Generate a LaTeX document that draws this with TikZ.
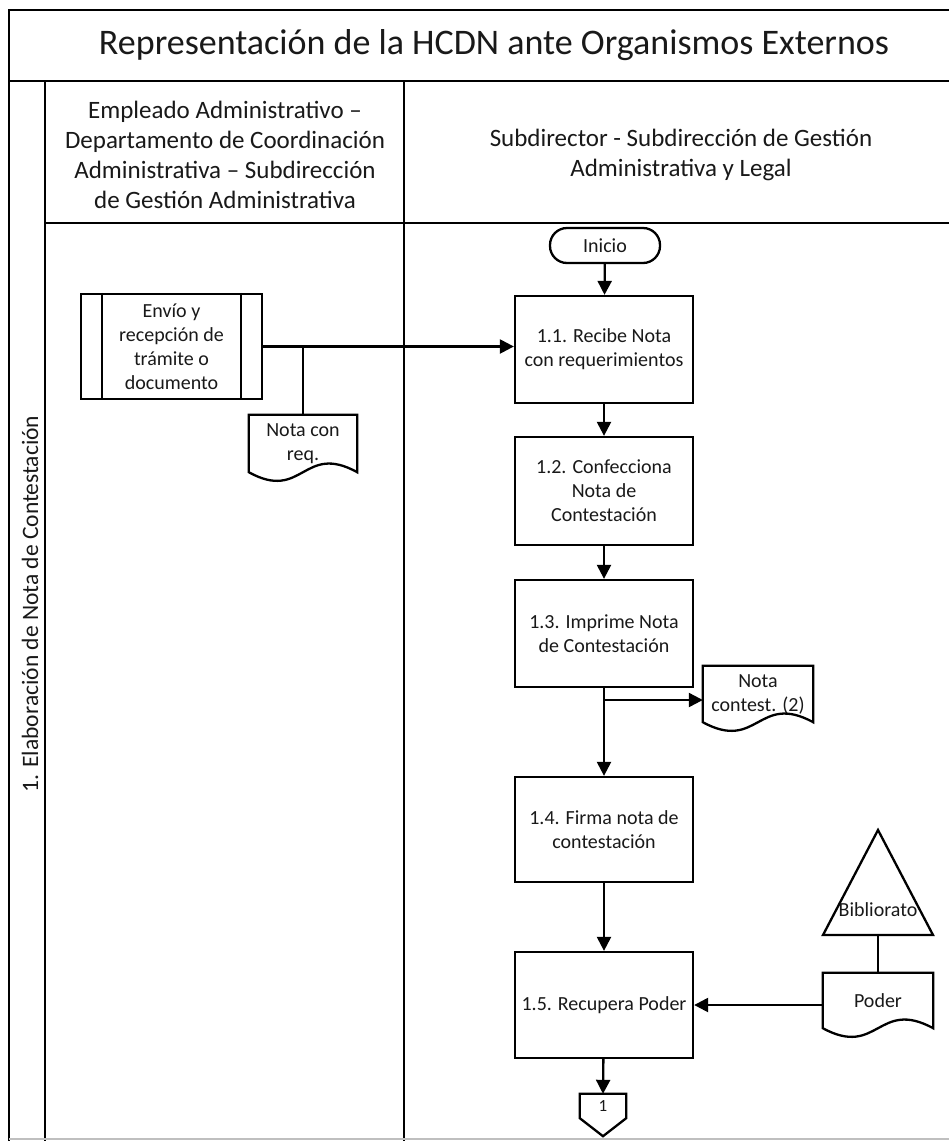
\documentclass[tikz,border=0pt]{standalone}
\usepackage{fontspec}
\setmainfont{Carlito}
\usetikzlibrary{arrows.meta,calc}

% wavy-bottomed document outline around a (borderless) node
\newcommand\docoutline[1]{%
  \draw[shapeline] (#1.south west) -- (#1.north west) -- (#1.north east) -- (#1.south east)
    .. controls ($(#1.south)+(0,-30)$) and ($(#1.south)+(0,30)$) .. (#1.south west) -- cycle;}

\begin{document}
\begin{tikzpicture}[x=1pt,y=-1pt,
  frame/.style={line width=2.6pt},
  shapeline/.style={line width=2.3pt},
  txt/.style={font=\fontsize{20}{24}\selectfont, align=center, text=black!90},
  proc/.style={txt, draw, shapeline, minimum width=178pt, inner sep=2pt},
  docnode/.style={txt, inner sep=0pt},
  arr/.style={line width=2.3pt, -{Triangle[length=14pt,width=14pt]}},
  link/.style={line width=2.3pt}
]
\clip (0,0) rectangle (949,1141);
\fill[white] (0,0) rectangle (949,1141);

% swimlane frame
\draw[frame] (9,1160) -- (9,10) -- (990,10);
\draw[frame] (9,81) -- (990,81);
\draw[frame] (45,81) -- (45,1160);
\draw[frame] (45,223) -- (990,223);
\draw[frame] (404,81) -- (404,1160);
\draw[line width=1.5pt, black!25] (9,1139) -- (990,1139);

% titles
\node[font=\fontsize{36}{40}\selectfont, text=black!90] (title) at (494,45) {Representación de la HCDN ante Organismos Externos};
\node[font=\fontsize{25}{30}\selectfont, align=center, text=black!90] (lane1) at (225,155)
  {Empleado Administrativo –\\Departamento de Coordinación\\Administrativa – Subdirección\\de Gestión Administrativa};
\node[font=\fontsize{25}{30}\selectfont, align=center, text=black!90] (lane2) at (681,155)
  {Subdirector - Subdirección de Gestión\\Administrativa y Legal};
\node[rotate=90, font=\fontsize{23.5}{28}\selectfont, text=black!90] (phase) at (30,604)
  {1. Elaboración de Nota de Contestación};

% left lane
\node[proc, minimum width=181pt, minimum height=105pt] (envio) at (171.5,346.5)
  {Envío y\\recepción de\\trámite o\\documento};
\draw[shapeline] ([xshift=22pt]envio.north west) -- ([xshift=22pt]envio.south west);
\draw[shapeline] ([xshift=-22pt]envio.north east) -- ([xshift=-22pt]envio.south east);

\node[docnode, minimum width=108pt, minimum height=57pt] (notareq) at (303,443.5) {Nota con\\req.};
\docoutline{notareq}

% right lane
\node[txt, draw, shapeline, rounded corners=17pt, minimum width=110pt, minimum height=35pt] (inicio) at (605,245.5) {Inicio};
\node[proc, minimum height=107pt] (p11) at (604,349.5) {1.1. Recibe Nota\\con requerimientos};
\node[proc, minimum height=108pt] (p12) at (604,491) {1.2. Confecciona\\Nota de\\Contestación};
\node[proc, minimum height=107pt] (p13) at (604,633.5) {1.3. Imprime Nota\\de Contestación};
\node[proc, minimum height=105pt] (p14) at (604,829.5) {1.4. Firma nota de\\contestación};
\node[proc, minimum height=106pt] (p15) at (604,1005) {1.5. Recupera Poder};

\node[docnode, minimum width=110pt, minimum height=56pt] (notacont) at (758,694) {Nota\\contest. (2)};
\docoutline{notacont}

\node[docnode, minimum width=110pt, minimum height=55pt] (poder) at (878,1000.5) {Poder};
\docoutline{poder}

% archive triangle
\coordinate (bibtop) at (878,830);
\coordinate (bibbase) at (878,935);
\draw[shapeline, line join=miter] (bibtop) -- (933,935) -- (823,935) -- cycle;
\node[txt] (biblbl) at (878,910) {Bibliorato};

% off-page connector
\node[docnode, font=\fontsize{17}{20}\selectfont, minimum width=46pt, minimum height=24pt] (off1) at (603,1106) {1};
\draw[shapeline, line join=miter] (off1.north west) -- (off1.north east) -- (off1.south east)
  -- ($(off1.south)+(0,18)$) -- (off1.south west) -- cycle;

% connectors
\draw[arr] (envio.east) -- (envio.east -| p11.west);
\draw[link] (notareq.north |- envio.east) -- (notareq.north);
\draw[arr] (inicio) -- (p11);
\draw[arr] (p11) -- (p12);
\draw[arr] (p12) -- (p13);
\draw[arr] (p13) -- (p14);
\coordinate (br2) at (604,700);
\draw[arr] (br2) -- (br2 -| notacont.west);
\draw[arr] (p14) -- (p15);
\draw[arr] (p15) -- (off1.north);
\draw[link] (bibbase) -- (poder.north);
\draw[arr] (poder.west |- p15.east) -- (p15.east);
\end{tikzpicture}
\end{document}
